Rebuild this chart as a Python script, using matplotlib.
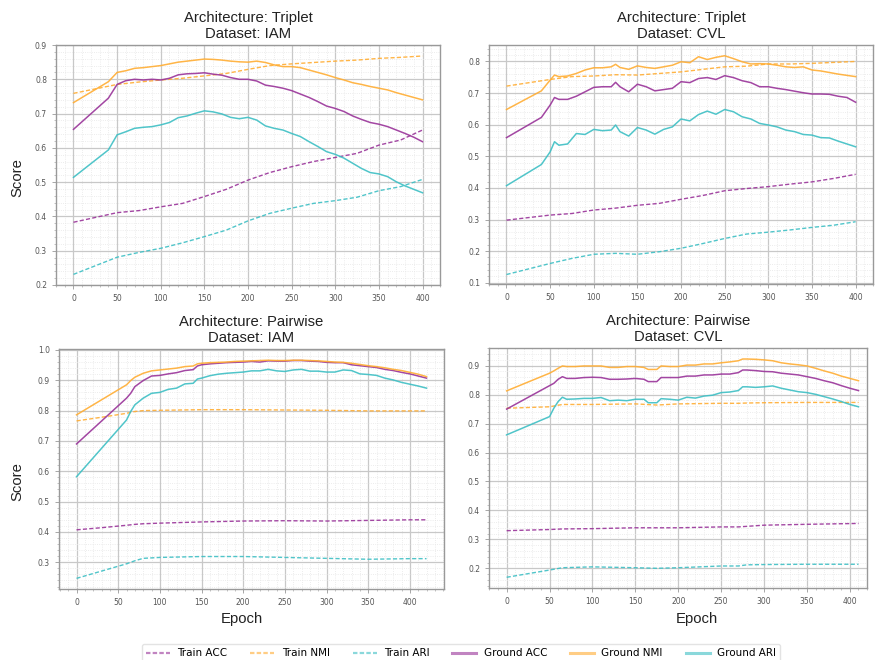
import matplotlib.pyplot as plt
from matplotlib.lines import Line2D
from matplotlib.ticker import AutoMinorLocator, MultipleLocator

# ---- Triplet / IAM ----
tri_iam_epochs = [0, 40] + list(range(50, 401, 10))
tri_iam_acc = [0.654, 0.745, 0.785, 0.796, 0.800, 0.798, 0.800, 0.798,
               0.803, 0.813, 0.816, 0.817, 0.819, 0.815, 0.812, 0.805, 0.800, 0.800,
               0.795, 0.783, 0.779, 0.774, 0.767, 0.757, 0.747, 0.735, 0.722, 0.715,
               0.706, 0.693, 0.683, 0.674, 0.669, 0.662, 0.652, 0.642, 0.631, 0.618]
tri_iam_nmi = [0.732, 0.793, 0.820, 0.825, 0.832, 0.834, 0.837, 0.840,
               0.845, 0.850, 0.853, 0.856, 0.859, 0.858, 0.856, 0.853, 0.851, 0.850,
               0.853, 0.849, 0.842, 0.837, 0.837, 0.834, 0.827, 0.820, 0.813, 0.805,
               0.798, 0.790, 0.785, 0.779, 0.774, 0.769, 0.761, 0.754, 0.747, 0.740]
tri_iam_ari = [0.514, 0.594, 0.638, 0.647, 0.657, 0.660, 0.662, 0.667,
               0.674, 0.688, 0.693, 0.701, 0.708, 0.705, 0.699, 0.689, 0.685, 0.689,
               0.681, 0.664, 0.657, 0.652, 0.642, 0.633, 0.618, 0.604, 0.589, 0.581,
               0.570, 0.555, 0.540, 0.528, 0.524, 0.516, 0.501, 0.489, 0.479, 0.469]
tri_iam_train_epochs = [0] + list(range(50, 401, 25))
tri_iam_train_acc = [0.383, 0.411, 0.417, 0.428, 0.438, 0.458, 0.479, 0.506,
                     0.528, 0.545, 0.560, 0.572, 0.584, 0.608, 0.623, 0.652]
tri_iam_train_nmi = [0.759, 0.785, 0.792, 0.798, 0.803, 0.810, 0.817, 0.829,
                     0.840, 0.845, 0.849, 0.853, 0.856, 0.861, 0.864, 0.868]
tri_iam_train_ari = [0.231, 0.281, 0.295, 0.307, 0.323, 0.341, 0.360, 0.387,
                     0.409, 0.424, 0.438, 0.446, 0.456, 0.475, 0.487, 0.508]

# ---- Triplet / CVL ----
tri_cvl_epochs = [0, 40, 50, 55, 60, 70, 80, 90, 100, 110, 120, 125] + list(range(130, 401, 10))
tri_cvl_acc = [0.559, 0.623, 0.662, 0.686, 0.680, 0.680, 0.690, 0.704, 0.718, 0.720, 0.720, 0.734,
               0.720, 0.704, 0.728, 0.720, 0.707, 0.711, 0.715, 0.736, 0.733, 0.746,
               0.749, 0.743, 0.755, 0.749, 0.739, 0.733, 0.720, 0.720, 0.715, 0.711,
               0.706, 0.701, 0.697, 0.697, 0.696, 0.690, 0.686, 0.671]
tri_cvl_nmi = [0.648, 0.707, 0.741, 0.757, 0.752, 0.754, 0.762, 0.773, 0.780, 0.780, 0.783, 0.791,
               0.781, 0.775, 0.786, 0.781, 0.778, 0.783, 0.788, 0.799, 0.796, 0.815,
               0.806, 0.813, 0.818, 0.809, 0.799, 0.792, 0.793, 0.792, 0.788, 0.783,
               0.781, 0.783, 0.773, 0.770, 0.765, 0.760, 0.756, 0.752]
tri_cvl_ari = [0.407, 0.474, 0.514, 0.546, 0.535, 0.539, 0.572, 0.569, 0.585, 0.581, 0.583, 0.599,
               0.578, 0.564, 0.591, 0.583, 0.570, 0.585, 0.593, 0.618, 0.612, 0.632,
               0.643, 0.633, 0.648, 0.641, 0.625, 0.618, 0.604, 0.599, 0.593, 0.583,
               0.578, 0.569, 0.567, 0.559, 0.558, 0.548, 0.539, 0.530]
tri_cvl_train_epochs = [0] + list(range(50, 401, 25))
tri_cvl_train_acc = [0.298, 0.314, 0.319, 0.330, 0.336, 0.345, 0.351, 0.364,
                     0.376, 0.391, 0.398, 0.404, 0.412, 0.419, 0.430, 0.443]
tri_cvl_train_nmi = [0.722, 0.743, 0.752, 0.754, 0.758, 0.757, 0.762, 0.767,
                     0.775, 0.783, 0.785, 0.792, 0.792, 0.794, 0.797, 0.800]
tri_cvl_train_ari = [0.126, 0.161, 0.177, 0.190, 0.193, 0.190, 0.198, 0.209,
                     0.224, 0.240, 0.254, 0.260, 0.267, 0.275, 0.282, 0.293]

# ---- Pairwise / IAM ----
pair_iam_epochs = [0, 60, 65, 70, 80, 90, 100, 110, 120, 130, 140, 145] + list(range(150, 421, 10))
pair_iam_acc = [0.690, 0.841, 0.857, 0.879, 0.899, 0.914, 0.916, 0.921, 0.925, 0.932, 0.935, 0.947,
                0.951, 0.954, 0.956, 0.958, 0.959, 0.960, 0.962, 0.960, 0.964, 0.963,
                0.963, 0.965, 0.965, 0.963, 0.962, 0.959, 0.958, 0.958, 0.951, 0.948,
                0.945, 0.942, 0.936, 0.932, 0.926, 0.921, 0.914, 0.907]
pair_iam_nmi = [0.786, 0.885, 0.899, 0.910, 0.923, 0.931, 0.934, 0.937, 0.940, 0.945, 0.947, 0.954,
                0.956, 0.958, 0.959, 0.960, 0.962, 0.963, 0.964, 0.965, 0.966, 0.965,
                0.965, 0.966, 0.966, 0.965, 0.964, 0.962, 0.960, 0.959, 0.956, 0.952,
                0.948, 0.945, 0.941, 0.936, 0.932, 0.926, 0.920, 0.912]
pair_iam_ari = [0.582, 0.769, 0.797, 0.819, 0.841, 0.857, 0.860, 0.870, 0.874, 0.888, 0.890, 0.904,
                0.907, 0.915, 0.920, 0.923, 0.925, 0.927, 0.931, 0.931, 0.936, 0.931,
                0.929, 0.934, 0.936, 0.930, 0.930, 0.927, 0.927, 0.934, 0.932, 0.921,
                0.919, 0.916, 0.907, 0.901, 0.893, 0.887, 0.881, 0.874]
pair_iam_train_epochs = [0, 30, 60, 70, 80, 100, 150, 200, 250, 300, 350, 400, 420]
pair_iam_train_acc = [0.407, 0.414, 0.422, 0.425, 0.427, 0.429, 0.433, 0.436, 0.437, 0.436, 0.438, 0.440, 0.440]
pair_iam_train_nmi = [0.766, 0.778, 0.791, 0.797, 0.800, 0.801, 0.803, 0.803, 0.802, 0.801, 0.799, 0.799, 0.799]
pair_iam_train_ari = [0.247, 0.271, 0.295, 0.305, 0.313, 0.316, 0.319, 0.319, 0.316, 0.313, 0.310, 0.312, 0.312]

# ---- Pairwise / CVL ----
pair_cvl_epochs = ([0, 50, 55, 60, 65] + list(range(70, 161, 10)) + [165, 170, 175]
                   + list(range(180, 271, 10)) + [275] + list(range(280, 411, 10)))
pair_cvl_acc = [0.750, 0.831, 0.839, 0.853, 0.862,
                0.856, 0.856, 0.859, 0.860, 0.859, 0.853, 0.853, 0.854, 0.856, 0.853,
                0.845, 0.845, 0.845,
                0.859, 0.859, 0.859, 0.864, 0.864, 0.868, 0.868, 0.871, 0.871, 0.876,
                0.885,
                0.885, 0.883, 0.880, 0.879, 0.874, 0.871, 0.868, 0.862, 0.856, 0.848,
                0.841, 0.831, 0.822, 0.814]
pair_cvl_nmi = [0.813, 0.874, 0.882, 0.891, 0.899,
                0.897, 0.897, 0.899, 0.899, 0.899, 0.894, 0.894, 0.897, 0.897, 0.894,
                0.887, 0.887, 0.887,
                0.899, 0.897, 0.897, 0.902, 0.902, 0.906, 0.906, 0.910, 0.913, 0.917,
                0.923,
                0.923, 0.922, 0.920, 0.917, 0.910, 0.906, 0.903, 0.899, 0.891, 0.882,
                0.874, 0.864, 0.856, 0.848]
pair_cvl_ari = [0.661, 0.724, 0.753, 0.776, 0.791,
                0.784, 0.785, 0.787, 0.787, 0.790, 0.779, 0.781, 0.779, 0.784, 0.784,
                0.772, 0.772, 0.772,
                0.786, 0.784, 0.781, 0.791, 0.788, 0.795, 0.798, 0.807, 0.809, 0.814,
                0.827,
                0.827, 0.825, 0.827, 0.830, 0.822, 0.816, 0.810, 0.807, 0.801, 0.793,
                0.785, 0.776, 0.766, 0.758]
pair_cvl_train_epochs = [0, 50, 65, 100, 150, 175, 200, 250, 270, 280, 300, 350, 410]
pair_cvl_train_acc = [0.330, 0.334, 0.336, 0.337, 0.340, 0.340, 0.340, 0.343, 0.343, 0.345, 0.349, 0.352, 0.355]
pair_cvl_train_nmi = [0.753, 0.758, 0.766, 0.766, 0.768, 0.764, 0.768, 0.770, 0.770, 0.771, 0.772, 0.773, 0.773]
pair_cvl_train_ari = [0.169, 0.194, 0.202, 0.205, 0.202, 0.200, 0.202, 0.208, 0.208, 0.212, 0.213, 0.214, 0.214]

PURPLE = '#993399'
ORANGE = '#ffad33'
CYAN = '#3dbfc4'
TITLE_FONT = 'Liberation Sans'

panels = [
    ("Architecture: Triplet\nDataset: IAM", tri_iam_epochs, tri_iam_acc, tri_iam_nmi, tri_iam_ari,
     tri_iam_train_epochs, tri_iam_train_acc, tri_iam_train_nmi, tri_iam_train_ari),
    ("Architecture: Triplet\nDataset: CVL", tri_cvl_epochs, tri_cvl_acc, tri_cvl_nmi, tri_cvl_ari,
     tri_cvl_train_epochs, tri_cvl_train_acc, tri_cvl_train_nmi, tri_cvl_train_ari),
    ("Architecture: Pairwise\nDataset: IAM", pair_iam_epochs, pair_iam_acc, pair_iam_nmi, pair_iam_ari,
     pair_iam_train_epochs, pair_iam_train_acc, pair_iam_train_nmi, pair_iam_train_ari),
    ("Architecture: Pairwise\nDataset: CVL", pair_cvl_epochs, pair_cvl_acc, pair_cvl_nmi, pair_cvl_ari,
     pair_cvl_train_epochs, pair_cvl_train_acc, pair_cvl_train_nmi, pair_cvl_train_ari),
]

# [left, bottom, width, height] for each panel
rects = [[0.0636, 0.5682, 0.4358, 0.3636],
         [0.5551, 0.5697, 0.4359, 0.3621],
         [0.0670, 0.1076, 0.4370, 0.3636],
         [0.5551, 0.1091, 0.4291, 0.3636]]
xlims = [(-20, 420), (-20, 420), (-21, 441), (-20.5, 420)]
ylims = [(0.2, 0.9), (0.096, 0.852), (0.212, 1.003), (0.132, 0.961)]

fig = plt.figure(figsize=(8.81, 6.60), dpi=100)

dash = (0, (3, 1.6))
for (title, ep, acc, nmi, ari, tep, tacc, tnmi, tari), rect, xl, yl in zip(panels, rects, xlims, ylims):
    ax = fig.add_axes(rect)
    ax.plot(tep, tacc, color=PURPLE, ls=dash, lw=1.0, alpha=0.9)
    ax.plot(tep, tnmi, color=ORANGE, ls=dash, lw=1.0, alpha=0.9)
    ax.plot(tep, tari, color=CYAN, ls=dash, lw=1.0, alpha=0.9)
    ax.plot(ep, acc, color=PURPLE, lw=1.1, alpha=0.9)
    ax.plot(ep, nmi, color=ORANGE, lw=1.1, alpha=0.9)
    ax.plot(ep, ari, color=CYAN, lw=1.1, alpha=0.9)
    ax.set_xlim(*xl)
    ax.set_ylim(*yl)
    ax.xaxis.set_major_locator(MultipleLocator(50))
    ax.yaxis.set_major_locator(MultipleLocator(0.1))
    ax.xaxis.set_minor_locator(AutoMinorLocator(5))
    ax.yaxis.set_minor_locator(AutoMinorLocator(5))
    ax.grid(which='major', color='#c8c8c8', lw=0.9)
    ax.grid(which='minor', color='#e6e6e6', lw=0.6, ls=':')
    ax.set_axisbelow(True)
    for s in ax.spines.values():
        s.set_color('#999999')
        s.set_linewidth(1.0)
    ax.tick_params(which='major', labelsize=5.5, labelcolor='#555555', color='#999999', length=3, width=0.6)
    ax.tick_params(which='minor', color='#aaaaaa', length=1.5, width=0.5)
    ax.set_title(title, fontsize=10.7, family=TITLE_FONT, color='#222222', pad=5, linespacing=1.15)

fig.text(17 / 881, 1 - 178 / 660, 'Score', rotation=90, ha='center', va='center',
         fontsize=10.7, family=TITLE_FONT, color='#222222')
fig.text(17 / 881, 1 - 482 / 660, 'Score', rotation=90, ha='center', va='center',
         fontsize=10.7, family=TITLE_FONT, color='#222222')
fig.text(242 / 881, 1 - 619 / 660, 'Epoch', ha='center', va='center',
         fontsize=10.7, family=TITLE_FONT, color='#222222')
fig.text(697 / 881, 1 - 619 / 660, 'Epoch', ha='center', va='center',
         fontsize=10.7, family=TITLE_FONT, color='#222222')

handles = [Line2D([], [], color=PURPLE, ls=(0, (2, 1)), lw=1.6, alpha=0.6),
           Line2D([], [], color=ORANGE, ls=(0, (2, 1)), lw=1.6, alpha=0.6),
           Line2D([], [], color=CYAN, ls=(0, (2, 1)), lw=1.6, alpha=0.6),
           Line2D([], [], color=PURPLE, lw=2.2, alpha=0.6),
           Line2D([], [], color=ORANGE, lw=2.2, alpha=0.6),
           Line2D([], [], color=CYAN, lw=2.2, alpha=0.6)]
labels = ['Train ACC', 'Train NMI', 'Train ARI', 'Ground ACC', 'Ground NMI', 'Ground ARI']
fig.legend(handles, labels, loc='upper center', bbox_to_anchor=(461 / 881, 1 - 639 / 660),
           ncol=6, fontsize=7.5, handlelength=2.3, handletextpad=0.7, columnspacing=2.2,
           frameon=True, edgecolor='#dddddd', borderpad=0.4)

fig.savefig('out.png', dpi=100)
